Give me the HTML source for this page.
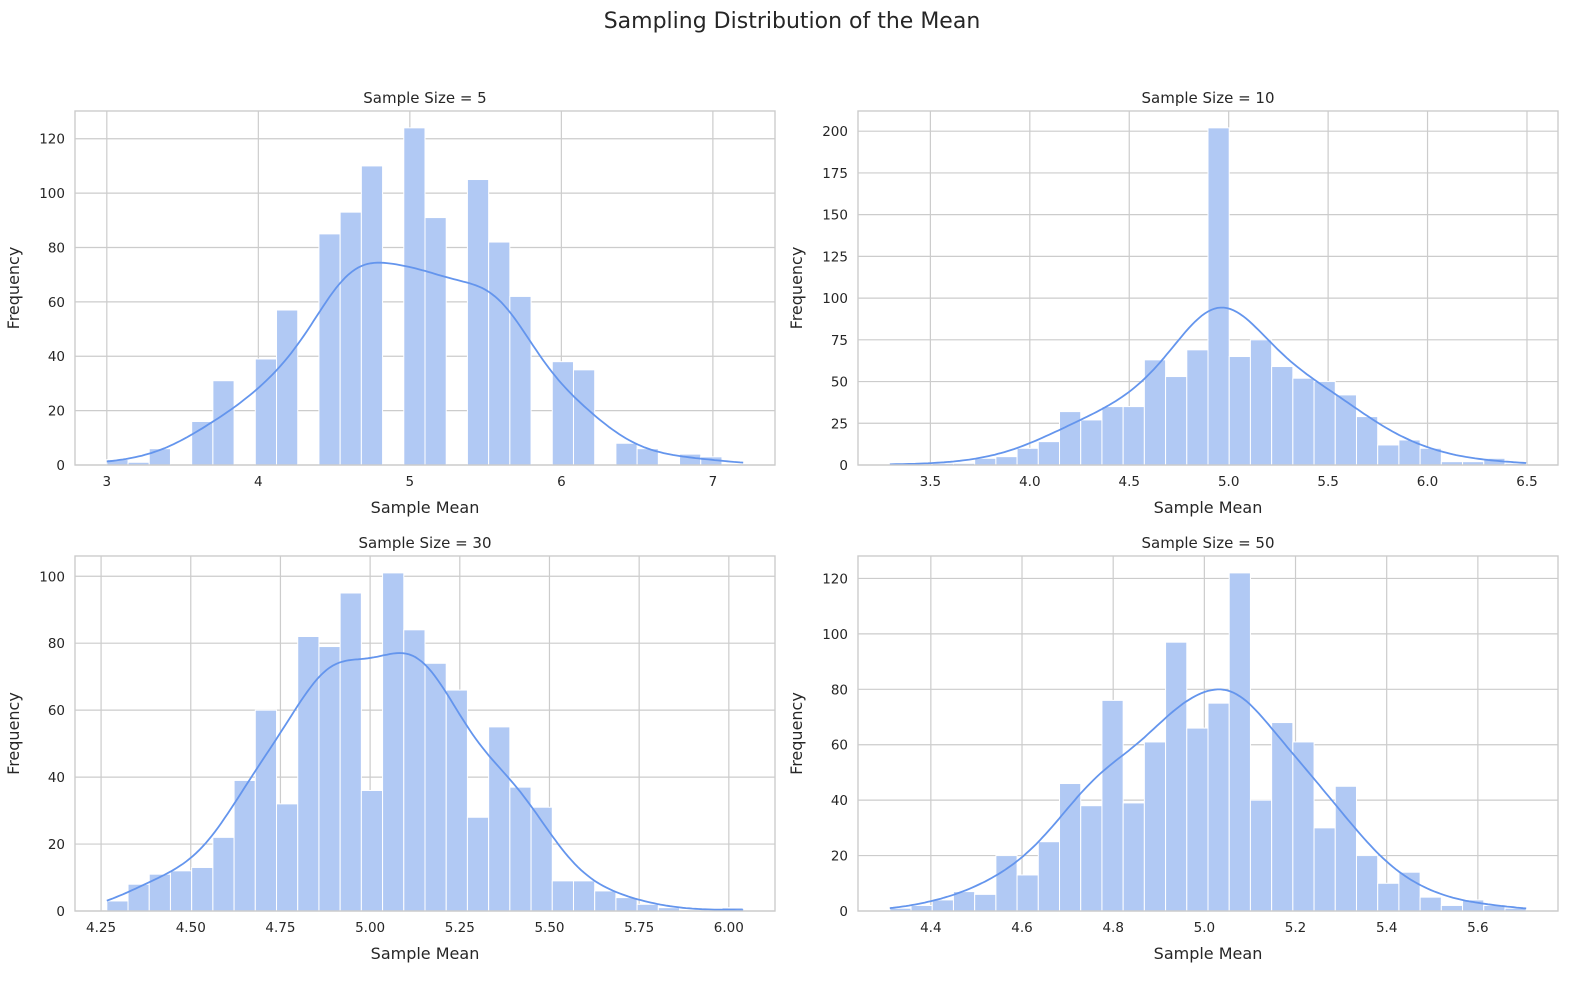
<!DOCTYPE html>
<html><head><meta charset="utf-8">
<style>
body{margin:0;background:#fff;}
svg{display:block;font-family:"DejaVu Sans","Liberation Sans",sans-serif;}
</style></head>
<body>
<svg id="fig" width="1584" height="982" viewBox="0 0 1584 982">
<text x="792" y="28" text-anchor="middle" font-size="22" fill="#262626">Sampling Distribution of the Mean</text>
</svg>
<script>
// ---- data ----
const titles = ["Sample Size = 5","Sample Size = 10","Sample Size = 30","Sample Size = 50"];
const binStart = [3.0, 3.296, 4.266, 4.31];
const binEnd = [7.2, 6.496, 6.04, 5.706];
const counts5 = [2,1,6,0,16,31,0,39,57,0,85,93,110,0,124,91,0,105,82,62,0,38,35,0,8,6,0,4,3,0];
const counts10 = [1,0,1,1,4,5,10,14,32,27,35,35,63,53,69,202,65,75,59,52,50,42,29,12,15,10,2,2,4,1];
const counts30 = [3,8,11,12,13,22,39,60,32,82,79,95,36,101,84,74,66,28,55,37,31,9,9,6,4,2,1,0,0,1];
const counts50 = [1,2,4,7,6,20,13,25,46,38,76,39,61,97,66,75,122,40,68,61,30,45,20,10,14,5,2,4,2,1];
const xTicks5 = [3,4,5,6,7];
const xTicks10 = [3.5,4.0,4.5,5.0,5.5,6.0,6.5];
const xTicks30 = [4.25,4.50,4.75,5.00,5.25,5.50,5.75,6.00];
const xTicks50 = [4.4,4.6,4.8,5.0,5.2,5.4,5.6];
const yTicks5 = [0,20,40,60,80,100,120];
const yTicks10 = [0,25,50,75,100,125,150,175,200];
const yTicks30 = [0,20,40,60,80,100];
const yTicks50 = [0,20,40,60,80,100,120];
const xDigits = [0,1,2,1];
const bwScale = [1.45,1.65,1.3,1.3];

const allCounts=[counts5,counts10,counts30,counts50];
const allX=[xTicks5,xTicks10,xTicks30,xTicks50];
const allY=[yTicks5,yTicks10,yTicks30,yTicks50];
const boxes=[[75,111,775,465],[858,111,1558,465],[75,556,775,911],[858,556,1558,911]];
const NS="http://www.w3.org/2000/svg";
const svg=document.getElementById('fig');
function mk(tag,attrs,parent){const e=document.createElementNS(NS,tag);for(const k in attrs)e.setAttribute(k,attrs[k]);(parent||svg).appendChild(e);return e;}

for(let p=0;p<4;p++){
  const [L,T,R,B]=boxes[p];
  const counts=allCounts[p], n=counts.length;
  const x0=binStart[p], x1=binEnd[p], bw=(x1-x0)/n;
  const m=(x1-x0)*0.05, xmin=x0-m, xmax=x1+m;
  const ymax=Math.max(...counts)*1.05;
  const sx=v=>L+(v-xmin)/(xmax-xmin)*(R-L);
  const sy=v=>B-v/ymax*(B-T);
  const g=mk('g',{});
  
  
  allX[p].forEach(t=>{const l=mk('line',{x1:sx(t),x2:sx(t),y1:T,y2:B,stroke:'#cccccc','stroke-width':1.2},g);
    
    const tx=mk('text',{x:sx(t),y:B+21,'text-anchor':'middle','font-size':13.5,fill:'#262626'},g);
    tx.textContent=t.toFixed(xDigits[p]);
    });
  allY[p].forEach(t=>{const l=mk('line',{x1:L,x2:R,y1:sy(t),y2:sy(t),stroke:'#cccccc','stroke-width':1.2},g);
    
    const tx=mk('text',{x:L-10,y:sy(t)+5,'text-anchor':'end','font-size':13.5,fill:'#262626'},g);
    tx.textContent=t;
    });
  counts.forEach((c,i)=>{ if(c<=0) return;
    const a=sx(x0+i*bw), b=sx(x0+(i+1)*bw);
    const r=mk('rect',{x:a,y:sy(c),width:b-a,height:sy(0)-sy(c),fill:'#b1c9f4',stroke:'#ffffff','stroke-width':1},g);
    });
  let N=0,mean=0;counts.forEach((c,i)=>{N+=c;mean+=c*(x0+(i+.5)*bw);});mean/=N;
  let vr=0;counts.forEach((c,i)=>{vr+=c*Math.pow(x0+(i+.5)*bw-mean,2);});vr/=N;
  const h=Math.sqrt(vr)*Math.pow(N,-0.2)*bwScale[p];
  let d='';
  for(let k=0;k<=200;k++){const x=x0+(x1-x0)*k/200;let s=0;
    counts.forEach((c,i)=>{const u=(x-(x0+(i+.5)*bw))/h;s+=c*Math.exp(-0.5*u*u);});
    const dens=s/(N*h*Math.sqrt(2*Math.PI));const y=dens*N*bw;
    d+=(k?'L':'M')+sx(x).toFixed(1)+','+sy(y).toFixed(1);}
  const kl=mk('path',{d:d,fill:'none',stroke:'#6495ed','stroke-width':1.8},g);
  
  const fr=mk('rect',{x:L,y:T,width:R-L,height:B-T,fill:'none',stroke:'#cccccc','stroke-width':1.4},g);
  
  const tt=mk('text',{x:(L+R)/2,y:T-8,'text-anchor':'middle','font-size':15,fill:'#262626'},g);
  tt.textContent=titles[p];
  
  const xl=mk('text',{x:(L+R)/2,y:B+48,'text-anchor':'middle','font-size':16,fill:'#262626'},g);
  xl.textContent='Sample Mean';
  
  const yx=L-56, yy=(T+B)/2;
  const yl=mk('text',{x:yx,y:yy,'text-anchor':'middle','font-size':16,fill:'#262626',transform:`rotate(-90 ${yx} ${yy})`},g);
  yl.textContent='Frequency';
  
}
</script>
</body></html>
